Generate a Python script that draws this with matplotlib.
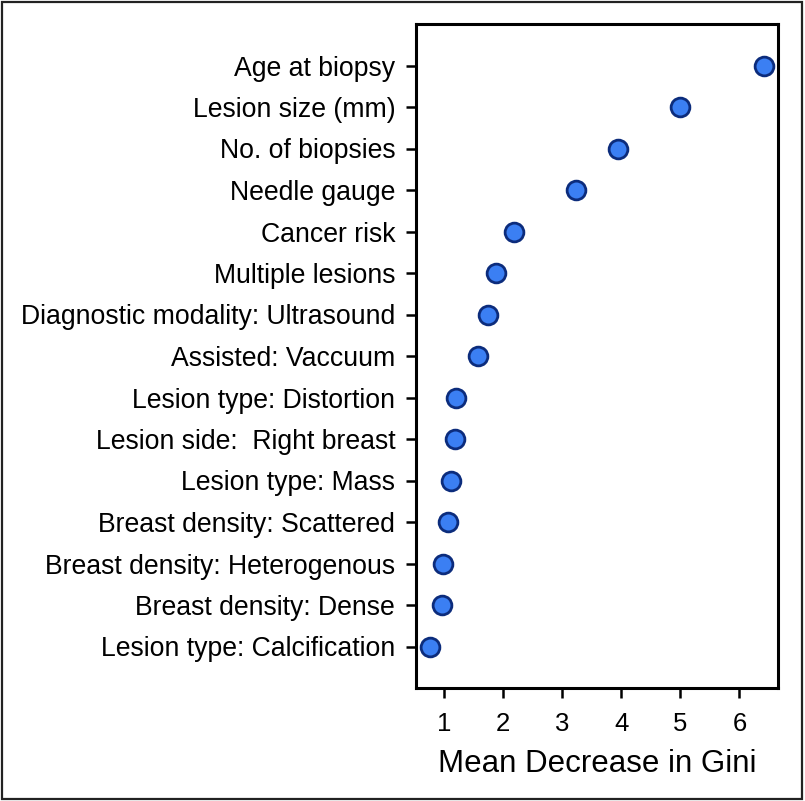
import matplotlib
matplotlib.use("Agg")
import matplotlib.pyplot as plt
from matplotlib.patches import Rectangle

# variable importance from the random forest, bottom to top
features = [
    "Lesion type: Calcification",
    "Breast density: Dense",
    "Breast density: Heterogenous",
    "Breast density: Scattered",
    "Lesion type: Mass",
    "Lesion side:  Right breast",
    "Lesion type: Distortion",
    "Assisted: Vaccuum",
    "Diagnostic modality: Ultrasound",
    "Multiple lesions",
    "Cancer risk",
    "Needle gauge",
    "No. of biopsies",
    "Lesion size (mm)",
    "Age at biopsy",
]
gini = [0.76, 0.96, 0.98, 1.06, 1.12, 1.18, 1.20, 1.57, 1.75, 1.87, 2.19, 3.24, 3.95, 5.00, 6.41]
xticks = [1, 2, 3, 4, 5, 6]

plt.rcParams['font.family'] = ['Liberation Sans', 'DejaVu Sans']

fig = plt.figure(figsize=(8.05, 8.01), dpi=100)
ax = fig.add_axes([416 / 805, 1 - 688 / 801, (778 - 416) / 805, (688 - 24) / 801])

pos = list(range(1, len(features) + 1))
ax.plot(gini, pos, 'o', ls='none', ms=13.5, mfc='#3b7ff3', mec='#0c2c7c', mew=2.0)

ax.set_ylim(0, 16)
ax.set_xlim(0.522, 6.654)
ax.set_yticks(pos)
ax.set_yticklabels(features)
ax.set_xticks(xticks)
ax.set_xticklabels([str(t) for t in xticks])

for s in ax.spines.values():
    s.set_linewidth(2.2)
ax.tick_params(axis='y', length=7, width=1.8, pad=8, labelsize=19.2)
ax.tick_params(axis='x', length=7, width=1.8, pad=10, labelsize=18.5)
ax.set_xlabel("Mean Decrease in Gini", fontsize=22.5, labelpad=10)

# frame round the whole figure
fig.patches.append(Rectangle((0.002, 0.003), 0.994, 0.994, transform=fig.transFigure,
                             fill=False, lw=1.6, ec='#222222'))

fig.savefig("out.png", dpi=100)
